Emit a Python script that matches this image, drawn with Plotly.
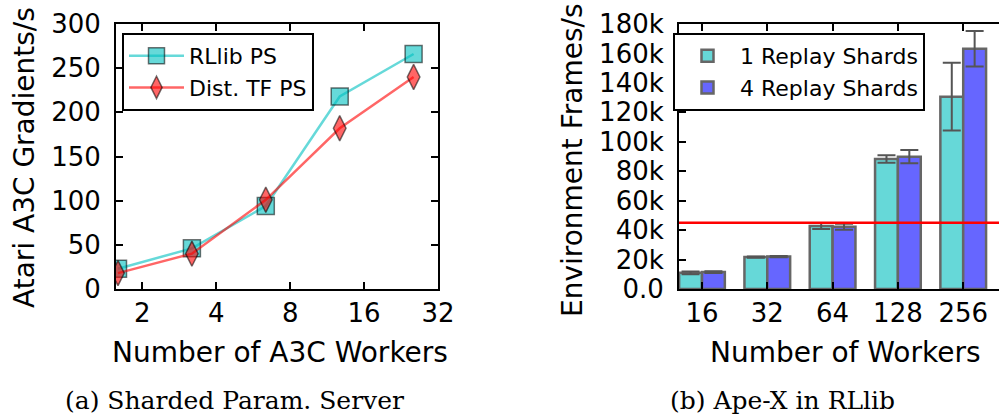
import numpy as np
import plotly.graph_objects as go

# ---------------- data ----------------
a3c_workers = ["2", "4", "8", "16", "32"]
rllib_ps = [23, 46, 94, 218, 266]
dist_tf_ps = [18, 40, 101, 182, 240]

apex_workers = ["16", "32", "64", "128", "256"]
shards1 = [11000, 21700, 42800, 88300, 130600]
shards1_err = [900, 400, 2000, 2500, 23000]
shards4 = [11500, 22000, 42300, 89900, 163200]
shards4_err = [600, 400, 2000, 4500, 12000]
baseline_rate = 45000

y_ticks_a = [0, 50, 100, 150, 200, 250, 300]
y_ticks_b = [0, 20000, 40000, 60000, 80000, 100000, 120000, 140000, 160000, 180000]
y_ticktext_b = ["0.0", "20k", "40k", "60k", "80k", "100k", "120k", "140k", "160k", "180k"]

# ---------------- layout constants ----------------
W, H = 999, 416
FONT = "DejaVu Sans"
SERIF = "DejaVu Serif"

def px_x(p):
    return p / W

def px_y(p):
    return 1 - p / H

pos_a = np.arange(len(a3c_workers))
pos_b = np.arange(len(apex_workers))

fig = go.Figure()

fig.add_trace(go.Scatter(
    x=pos_a, y=rllib_ps, name="RLlib PS", mode="lines+markers",
    line=dict(color="rgba(0,191,191,0.6)", width=2.5),
    marker=dict(symbol="square", size=17, color="rgba(0,191,191,0.6)",
                line=dict(color="rgba(0,0,0,0.55)", width=1.5)),
    xaxis="x", yaxis="y", legend="legend",
))
fig.add_trace(go.Scatter(
    x=pos_a, y=dist_tf_ps, name="Dist. TF PS", mode="lines+markers",
    line=dict(color="rgba(255,0,0,0.6)", width=2.5),
    marker=dict(symbol="diamond-tall", size=18, color="rgba(255,0,0,0.6)",
                line=dict(color="rgba(0,0,0,0.55)", width=1.5)),
    xaxis="x", yaxis="y", legend="legend",
))

fig.add_trace(go.Bar(
    x=pos_b, y=shards1, name="1 Replay Shards",
    marker=dict(color="#66d8d8", line=dict(color="#666666", width=2.5)),
    error_y=dict(type="data", array=shards1_err, color="#555555", thickness=2, width=9),
    xaxis="x2", yaxis="y2", legend="legend2",
))
fig.add_trace(go.Bar(
    x=pos_b, y=shards4, name="4 Replay Shards",
    marker=dict(color="#6666ff", line=dict(color="#666666", width=2.5)),
    error_y=dict(type="data", array=shards4_err, color="#555555", thickness=2, width=9),
    xaxis="x2", yaxis="y2", legend="legend2",
))

fig.add_shape(type="line", xref="x2 domain", yref="y2", x0=0, x1=1,
              y0=baseline_rate, y1=baseline_rate,
              line=dict(color="#ff0000", width=2.5), layer="above")

axis_common = dict(
    showline=True, linecolor="black", linewidth=2, mirror="ticks",
    ticks="inside", ticklen=7, tickwidth=1.5, tickcolor="black",
    showgrid=False, zeroline=False, automargin=False,
    tickfont=dict(family=FONT, size=26, color="black"),
)

ydom = [px_y(289), px_y(24)]

fig.update_layout(
    template="none",
    width=W, height=H,
    margin=dict(l=0, r=0, t=0, b=0, pad=0, autoexpand=False),
    paper_bgcolor="white", plot_bgcolor="white",
    barmode="group", bargap=0.30, bargroupgap=0.0,
    xaxis=dict(axis_common, domain=[px_x(116), px_x(438)], anchor="y",
               range=[-0.027, 4.33],
               tickvals=list(pos_a + 0.33), ticktext=a3c_workers,
               ticklabelstandoff=0),
    yaxis=dict(axis_common, domain=ydom, anchor="x", range=[0, 300],
               tickvals=y_ticks_a, ticklabelstandoff=8),
    xaxis2=dict(axis_common, domain=[px_x(679), 1.0], anchor="y2",
                range=[-0.352, 4.548],
                tickvals=list(pos_b), ticktext=apex_workers,
                ticklabelstandoff=0),
    yaxis2=dict(axis_common, domain=ydom, anchor="x2", range=[0, 180000],
                tickvals=y_ticks_b, ticktext=y_ticktext_b, mirror=False,
                ticklabelstandoff=8),
    legend=dict(x=px_x(122), y=px_y(33), xanchor="left", yanchor="top",
                bgcolor="white", bordercolor="black", borderwidth=2,
                font=dict(family=FONT, size=22, color="black"),
                itemwidth=55, tracegroupgap=0),
    legend2=dict(x=px_x(673), y=px_y(33), xanchor="left", yanchor="top",
                 bgcolor="white", bordercolor="black", borderwidth=2,
                 font=dict(family=FONT, size=22, color="black"),
                 itemwidth=55, tracegroupgap=0),
    showlegend=True,
)

ann_font = dict(family=FONT, size=28, color="black")
cap_font = dict(family=SERIF, size=25, color="black")
fig.add_annotation(text="Number of A3C Workers", x=px_x(280), y=px_y(352),
                   xref="paper", yref="paper", showarrow=False,
                   xanchor="center", yanchor="middle", font=ann_font)
fig.add_annotation(text="Number of Workers", x=px_x(845), y=px_y(352),
                   xref="paper", yref="paper", showarrow=False,
                   xanchor="center", yanchor="middle", font=ann_font)
fig.add_annotation(text="Atari A3C Gradients/s", x=px_x(24), y=px_y(158),
                   xref="paper", yref="paper", showarrow=False, textangle=-90,
                   xanchor="center", yanchor="middle", font=ann_font)
fig.add_annotation(text="Environment Frames/s", x=px_x(572), y=px_y(160),
                   xref="paper", yref="paper", showarrow=False, textangle=-90,
                   xanchor="center", yanchor="middle", font=ann_font)
fig.add_annotation(text="(a) Sharded Param. Server", x=px_x(234), y=px_y(400),
                   xref="paper", yref="paper", showarrow=False,
                   xanchor="center", yanchor="middle", font=cap_font)
fig.add_annotation(text="(b) Ape-X in RLlib", x=px_x(782), y=px_y(400),
                   xref="paper", yref="paper", showarrow=False,
                   xanchor="center", yanchor="middle", font=cap_font)

fig.write_html("out.html")
